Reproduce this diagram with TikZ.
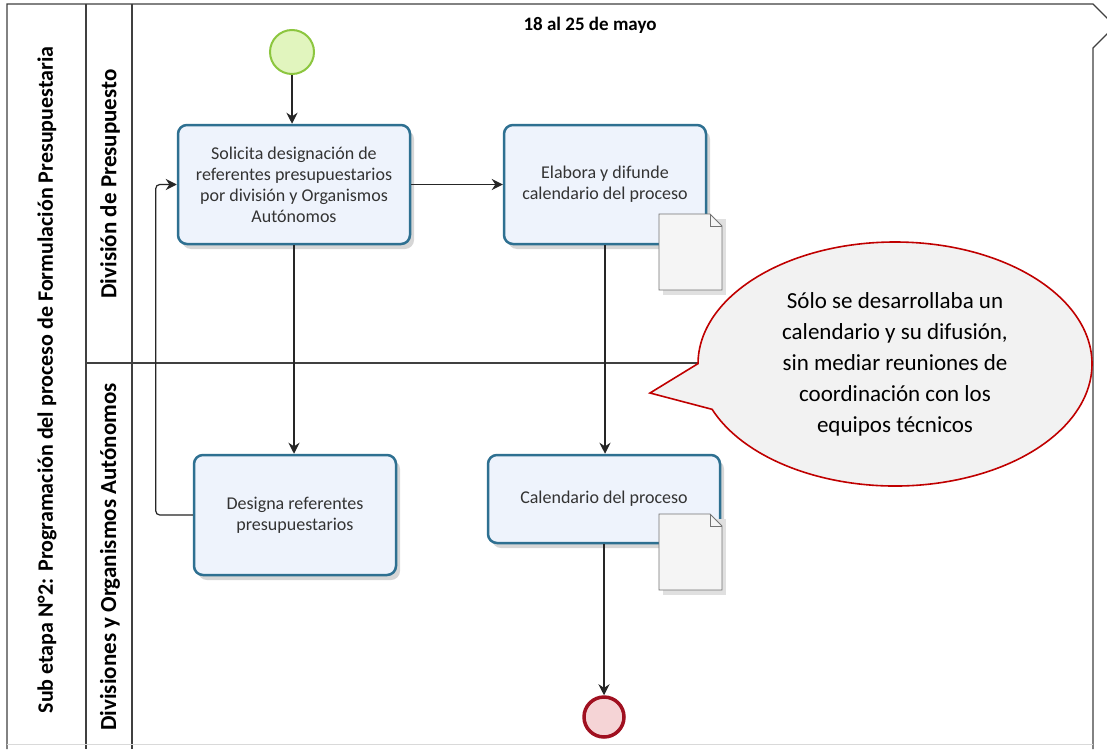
\documentclass[tikz,border=0pt]{standalone}
\usepackage{fontspec}
\setmainfont{Carlito}
\usetikzlibrary{arrows.meta,shapes.callouts,shadows,calc}

\definecolor{taskblue}{RGB}{46,112,145}
\definecolor{taskfill}{RGB}{238,243,252}
\definecolor{startgreen}{RGB}{140,198,63}
\definecolor{startfill}{RGB}{225,245,190}
\definecolor{endred}{RGB}{160,16,32}
\definecolor{endfill}{RGB}{245,212,214}
\definecolor{calloutred}{RGB}{192,0,0}
\definecolor{calloutfill}{RGB}{242,242,242}
\definecolor{poolline}{RGB}{64,64,64}

\tikzset{
  lanebar/.style={draw=poolline, line width=1.2pt},
  task/.style={draw=taskblue, line width=2.5pt, fill=taskfill, rounded corners=9pt,
    inner sep=0pt, align=center, text=black!80, font=\fontsize{18}{21}\selectfont,
    drop shadow={shadow xshift=4pt, shadow yshift=-5pt, opacity=.16, fill=black}},
  flow/.style={draw=black!85, line width=1.2pt, -{Stealth[length=11pt,width=11pt]}},
  lanelabel/.style={rotate=90, font=\bfseries\fontsize{23}{26}\selectfont},
  docicon/.pic={
    \fill[black!12] (4,5) rectangle (67,81);
    \draw[draw=black!55, fill=black!4, line width=0.8pt]
      (0,0) -- (51,0) -- (63,12) -- (63,76) -- (0,76) -- cycle;
    \draw[draw=black!55, line width=0.8pt] (51,0) -- (51,12) -- (63,12);
  }
}

\begin{document}
\begin{tikzpicture}[x=1pt,y=-1pt]
  \path[use as bounding box, fill=white] (0,0) rectangle (1107,749);
  \clip (0,0) rectangle (1107,749);

  % pool frame with the open right edge
  \draw[lanebar] (7,749) -- (7,4) -- (1093,4) -- (1115,26) -- (1093,48) -- (1093,749);
  \draw[lanebar] (86,4) -- (86,749);
  \draw[lanebar] (132,4) -- (132,749);
  \draw[lanebar] (86,363) -- (1093,363);
  \draw[black!15, line width=0.8pt] (7,744) -- (1093,744);

  % pool and lane titles
  \node[lanelabel, font=\bfseries\fontsize{22}{25}\selectfont] (pooltitle) at (47,380)
    {Sub etapa N°2: Programación del proceso de Formulación Presupuestaria};
  \node[lanelabel] (lane1) at (110,184) {División de Presupuesto};
  \node[lanelabel] (lane2) at (110,557) {Divisiones y Organismos Autónomos};
  \node[font=\bfseries\fontsize{19}{22}\selectfont] (period) at (590,25) {18 al 25 de mayo};

  % events
  \node[circle, draw=startgreen, line width=2pt, fill=startfill, minimum size=44pt,
        inner sep=0pt] (start) at (292,52) {};
  \node[circle, draw=endred, line width=3.5pt, fill=endfill, minimum size=40pt,
        inner sep=0pt] (endev) at (604,717) {};

  % tasks
  \node[task, minimum width=232pt, minimum height=119pt] (solicita) at (294,184.5)
    {Solicita designación de\\referentes presupuestarios\\por división y Organismos\\Autónomos};
  \node[task, minimum width=202pt, minimum height=119pt] (elabora) at (605,184.5)
    {Elabora y difunde\\calendario del proceso};
  \node[task, minimum width=202pt, minimum height=120pt] (designa) at (295,515)
    {Designa referentes\\presupuestarios};
  \node[task, minimum width=232pt, minimum height=88pt] (calendario) at (604,499)
    {Calendario del proceso};

  % data objects
  \pic at (659,214) {docicon};
  \pic at (659,514) {docicon};

  % sequence flows
  \draw[flow] (start.south) -- (start.south |- solicita.north);
  \draw[flow] (solicita.east) -- (elabora.west);
  \draw[flow] (solicita.south) -- (solicita.south |- designa.north);
  \draw[flow, rounded corners=4pt] (designa.west) -- ++(-37,0) |- (solicita.west);
  \draw[flow] (elabora.south) -- (elabora.south |- calendario.north);
  \draw[flow] (calendario.south) -- (endev.north);

  % comment bubble
  \node[ellipse callout, draw=calloutred, line width=1.6pt, fill=calloutfill,
        minimum width=394pt, minimum height=244pt, inner sep=0pt,
        callout absolute pointer={(650,393)}, callout pointer arc=22,
        align=center, font=\fontsize{23}{31}\selectfont] (note) at (895,364)
    {Sólo se desarrollaba un\\calendario y su difusión,\\sin mediar reuniones de\\coordinación con los\\equipos técnicos};
\end{tikzpicture}
\end{document}
